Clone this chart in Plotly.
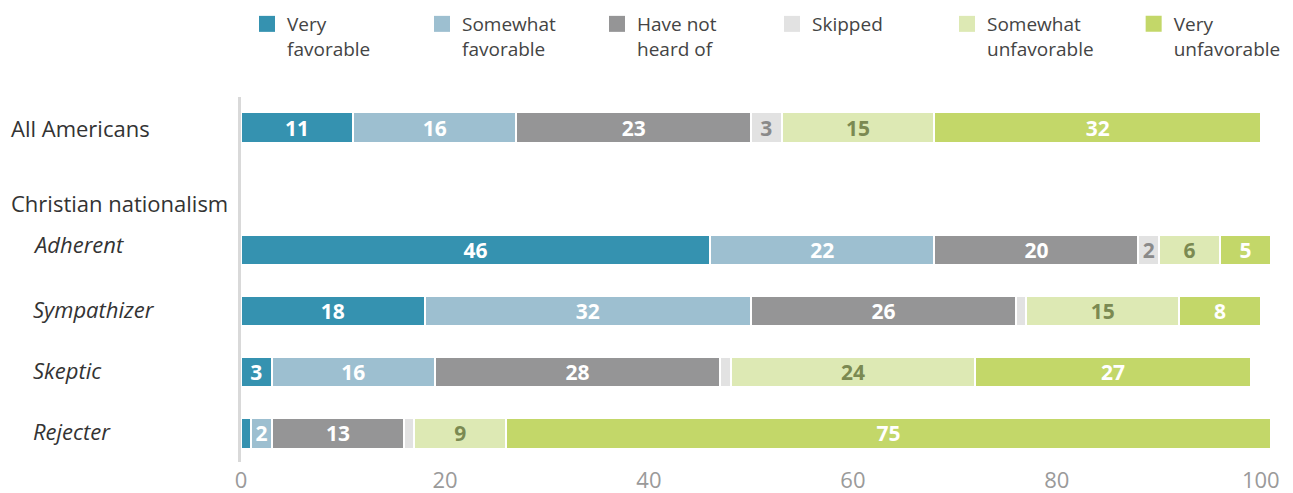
import plotly.graph_objects as go

# rows (top to bottom); "Christian nationalism" is a heading row with no bar
groups = ['All Americans', 'Christian nationalism', 'Adherent', 'Sympathizer', 'Skeptic', 'Rejecter']

series = ['Very<br>favorable', 'Somewhat<br>favorable', 'Have not<br>heard of',
          'Skipped', 'Somewhat<br>unfavorable', 'Very<br>unfavorable']

very_fav = [11, None, 46, 18, 3, 1]
somewhat_fav = [16, None, 22, 32, 16, 2]
not_heard = [23, None, 20, 26, 28, 13]
skipped = [3, None, 2, 1, 1, 1]
somewhat_unfav = [15, None, 6, 15, 24, 9]
very_unfav = [32, None, 5, 8, 27, 75]

values = [very_fav, somewhat_fav, not_heard, skipped, somewhat_unfav, very_unfav]
colors = ['#3592b0', '#9dbfd0', '#959596', '#e2e2e2', '#dde9b4', '#c3d769']
text_colors = ['white', 'white', 'white', '#8a8a8a', '#7b8a52', 'white']

fig = go.Figure()
for i, (name, vals, col, tcol) in enumerate(zip(series, values, colors, text_colors)):
    labels = [str(v) if v is not None and v >= 2 else '' for v in vals]
    fig.add_trace(go.Bar(
        y=groups, x=vals, orientation='h', name=name, showlegend=False,
        marker=dict(color=col, line=dict(color='white', width=2)),
        text=labels, textposition='inside', insidetextanchor='middle', textangle=0,
        textfont=dict(family='Open Sans', size=21, color=tcol, weight='bold'),
        hoverinfo='skip'))
    # legend proxy with a bigger square (last entry sits a bit further right)
    fig.add_trace(go.Scatter(
        x=[None], y=[None], mode='markers', name=name,
        legend='legend2' if i == len(series) - 1 else 'legend',
        marker=dict(symbol='square', size=18, color=col)))

# row labels
shifts = {'Christian nationalism': -14, 'Adherent': 6, 'Sympathizer': 2, 'Skeptic': 2, 'Rejecter': 2}
for g in groups:
    sub = g not in ('All Americans', 'Christian nationalism')
    fig.add_annotation(
        x=-0.204 if sub else -0.2257, xref='paper', y=g, yref='y',
        xanchor='left', showarrow=False, yshift=shifts.get(g, 0),
        text='<i>' + g + '</i>' if sub else g,
        font=dict(family='Open Sans', size=22, color='#333333'))

legend_style = dict(orientation='h', traceorder='normal', xref='container', xanchor='left',
                    y=1.252, yref='paper', yanchor='top', valign='top', tracegroupgap=0,
                    font=dict(family='Open Sans', size=19, color='#444444'))

fig.update_layout(
    barmode='stack', bargap=0.5,
    width=1285, height=485,
    margin=dict(l=233, r=22, t=89, b=31, autoexpand=False),
    plot_bgcolor='white', paper_bgcolor='white',
    font=dict(family='Open Sans', color='#333333'),
    uniformtext=dict(minsize=21, mode='show'),
    legend=dict(x=0.186, entrywidth=130, **legend_style),
    legend2=dict(x=0.876, entrywidth=130, **legend_style),
    xaxis=dict(range=[0, 101], tickvals=[0, 20, 40, 60, 80, 100], showgrid=False,
               zeroline=False, showline=False, ticklabelstandoff=3,
               tickfont=dict(family='Open Sans', size=22, color='#9a9a9a')),
    yaxis=dict(categoryorder='array', categoryarray=groups, range=[5.47, -0.5],
               showticklabels=False, showgrid=False, zeroline=False,
               showline=True, linecolor='#d9d9d9', linewidth=3),
)

fig.write_html("out.html")
